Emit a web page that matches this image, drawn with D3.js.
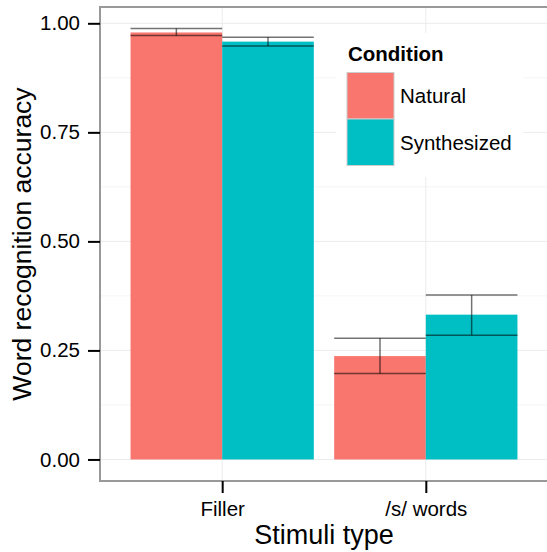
<!DOCTYPE html>
<html>
<head>
<meta charset="utf-8">
<script src="https://cdn.jsdelivr.net/npm/d3@7"></script>
<style>
  body { margin: 0; background: #fff; }
  svg { display: block; font-family: "Liberation Sans", Arial, sans-serif; }
</style>
</head>
<body>
<svg></svg>
<script>
const categories = ['Filler', '/s/ words'];
const conditions = ['Natural', 'Synthesized'];
const colors = ['#F8766D', '#00BFC4'];
// means and error bar bounds, per category
const naturalMean = [0.979, 0.237];
const naturalLow = [0.972, 0.197];
const naturalHigh = [0.988, 0.278];
const synthMean = [0.958, 0.332];
const synthLow = [0.948, 0.285];
const synthHigh = [0.968, 0.377];
const yTicks = [0, 0.25, 0.5, 0.75, 1];
const yMinor = [0.125, 0.375, 0.625, 0.875];

const [svgWidth, svgHeight] = [547, 552];
const svg = d3.select('svg')
  .attr('width', svgWidth)
  .attr('height', svgHeight);

const panel = { left: 100, right: 548, top: 7, bottom: 481 };

const data = [];
categories.forEach((c, i) => {
  data.push({ cat: c, cond: conditions[0], val: naturalMean[i], lo: naturalLow[i], hi: naturalHigh[i] });
  data.push({ cat: c, cond: conditions[1], val: synthMean[i], lo: synthLow[i], hi: synthHigh[i] });
});

const yMax = d3.max(data, d => d.hi);
const pad = yMax * 0.05;
const y = d3.scaleLinear()
  .domain([-pad, yMax + pad])
  .range([panel.bottom, panel.top]);
const x = d3.scalePoint()
  .domain(categories)
  .range([panel.left, panel.right])
  .padding(0.6);
const dodge = d3.scaleBand()
  .domain(conditions)
  .range([-0.45 * x.step(), 0.45 * x.step()]);
const color = d3.scaleOrdinal().domain(conditions).range(colors);

// grid
const grid = svg.append('g');
grid.selectAll('line.minor')
  .data(yMinor)
  .enter().append('line')
  .attr('x1', panel.left).attr('x2', panel.right)
  .attr('y1', d => y(d)).attr('y2', d => y(d))
  .attr('stroke', '#f5f5f5').attr('stroke-width', 1);
grid.selectAll('line.major')
  .data(yTicks)
  .enter().append('line')
  .attr('x1', panel.left).attr('x2', panel.right)
  .attr('y1', d => y(d)).attr('y2', d => y(d))
  .attr('stroke', '#ebebeb').attr('stroke-width', 1);
grid.selectAll('line.vert')
  .data(categories)
  .enter().append('line')
  .attr('x1', d => x(d)).attr('x2', d => x(d))
  .attr('y1', panel.top).attr('y2', panel.bottom)
  .attr('stroke', '#ebebeb').attr('stroke-width', 1);

// bars
svg.append('g').selectAll('rect')
  .data(data)
  .enter().append('rect')
  .attr('x', d => x(d.cat) + dodge(d.cond))
  .attr('width', dodge.bandwidth())
  .attr('y', d => y(d.val))
  .attr('height', d => y(0) - y(d.val))
  .attr('fill', d => color(d.cond));

// error bars
const eb = svg.append('g')
  .attr('stroke', '#000')
  .attr('stroke-opacity', 0.55)
  .attr('stroke-width', 1.5)
  .selectAll('g')
  .data(data)
  .enter().append('g');
eb.append('line')
  .attr('x1', d => x(d.cat) + dodge(d.cond))
  .attr('x2', d => x(d.cat) + dodge(d.cond) + dodge.bandwidth())
  .attr('y1', d => y(d.hi)).attr('y2', d => y(d.hi));
eb.append('line')
  .attr('x1', d => x(d.cat) + dodge(d.cond))
  .attr('x2', d => x(d.cat) + dodge(d.cond) + dodge.bandwidth())
  .attr('y1', d => y(d.lo)).attr('y2', d => y(d.lo));
eb.append('line')
  .attr('x1', d => x(d.cat) + dodge(d.cond) + dodge.bandwidth() / 2)
  .attr('x2', d => x(d.cat) + dodge(d.cond) + dodge.bandwidth() / 2)
  .attr('y1', d => y(d.hi)).attr('y2', d => y(d.lo));

// legend
const legend = svg.append('g');
legend.append('rect')
  .attr('x', 336).attr('y', 33)
  .attr('width', 187).attr('height', 144)
  .attr('fill', '#fff');
legend.append('text')
  .attr('x', 348).attr('y', 61)
  .attr('font-size', 20.5)
  .attr('font-weight', 'bold')
  .text('Condition');
const keys = legend.selectAll('g.key')
  .data(conditions)
  .enter().append('g')
  .attr('transform', (d, i) => `translate(347, ${72.5 + i * 46.5})`);
keys.append('rect')
  .attr('width', 47).attr('height', 46.5)
  .attr('fill', d => color(d))
  .attr('stroke', '#cccccc').attr('stroke-width', 1);
keys.append('text')
  .attr('x', 53).attr('y', 23.5)
  .attr('dy', '0.35em')
  .attr('font-size', 20.5)
  .text(d => d);

// panel border
svg.append('rect')
  .attr('x', panel.left).attr('y', panel.top)
  .attr('width', panel.right - panel.left)
  .attr('height', panel.bottom - panel.top)
  .attr('fill', 'none')
  .attr('stroke', '#999').attr('stroke-width', 2);

// axes
const yAxis = svg.append('g')
  .attr('transform', `translate(${panel.left}, 0)`)
  .call(d3.axisLeft(y).tickValues(yTicks).tickFormat(d3.format('.2f')).tickSize(12).tickPadding(8));
const xAxis = svg.append('g')
  .attr('transform', `translate(0, ${panel.bottom})`)
  .call(d3.axisBottom(x).tickSize(12).tickPadding(8));
[yAxis, xAxis].forEach(a => {
  a.select('.domain').remove();
  a.selectAll('.tick line').attr('stroke', '#000').attr('stroke-width', 2);
  a.selectAll('.tick text')
    .attr('fill', '#000')
    .style('font-size', '20.5px')
    .style('font-family', '"Liberation Sans", Arial, sans-serif');
});

// axis titles
svg.append('text')
  .attr('x', (panel.left + panel.right) / 2)
  .attr('y', 544)
  .attr('text-anchor', 'middle')
  .attr('font-size', 27)
  .text('Stimuli type');
svg.append('text')
  .attr('transform', `translate(31, ${(panel.top + panel.bottom) / 2}) rotate(-90)`)
  .attr('text-anchor', 'middle')
  .attr('font-size', 26.5)
  .text('Word recognition accuracy');
</script>
</body>
</html>
